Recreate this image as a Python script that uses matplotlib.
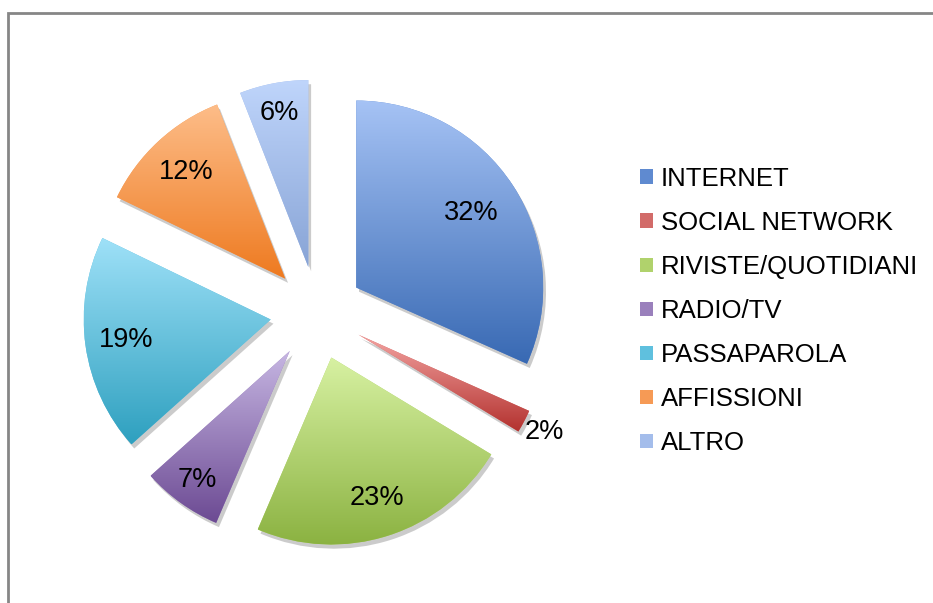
import numpy as np
import matplotlib
matplotlib.use("Agg")
import matplotlib.pyplot as plt
import matplotlib.patheffects as pe
from matplotlib.colors import LinearSegmentedColormap
from matplotlib.patches import Rectangle

plt.rcParams['font.family'] = ['Liberation Sans', 'DejaVu Sans']

categorie = ['INTERNET', 'SOCIAL NETWORK', 'RIVISTE/QUOTIDIANI', 'RADIO/TV',
             'PASSAPAROLA', 'AFFISSIONI', 'ALTRO']
percentuali = [32, 2, 23, 7, 19, 12, 6]
etichette = ['32%', '2%', '23%', '7%', '19%', '12%', '6%']

# sfumature (chiaro in alto, scuro in basso)
colori_chiari = ['#a6c3f5', '#f3a3a1', '#d7f1a2', '#c6b6e2', '#9fe1f8', '#fdbd89', '#bfd5fb']
colori_scuri = ['#3869b3', '#b3312e', '#8bb241', '#6c4a93', '#2ea0bf', '#ee7a20', '#88a4d6']
colori_medi = ['#5f8ad0', '#d26b69', '#b0d26c', '#9a80bc', '#5fc0de', '#f69a55', '#a4bdeb']
dist_etichette = [0.73, 1.12, 0.79, 0.85, 0.78, 0.78, 0.84]

W, H = 933, 603
fig = plt.figure(figsize=(W / 100, H / 100), dpi=100)
ax = fig.add_axes([36.5 / W, 9.5 / H, 561 / W, 561 / H])

explode = [0.25] * len(percentuali)
wedges, _ = ax.pie(percentuali, explode=explode, startangle=90, counterclock=False,
                   colors=colori_medi, radius=1.0)

grad = np.linspace(0, 1, 256).reshape(-1, 1)
for i, w in enumerate(wedges):
    w.set_path_effects([pe.SimplePatchShadow(offset=(2, -3), shadow_rgbFace='#555555', alpha=0.3),
                        pe.Normal()])
    w.set_linewidth(0)
    bb = w.get_path().get_extents()
    cmap = LinearSegmentedColormap.from_list('g%d' % i, [colori_scuri[i], colori_chiari[i]])
    im = ax.imshow(grad, cmap=cmap, extent=(bb.x0, bb.x1, bb.y0, bb.y1), origin='lower',
                   aspect='auto', zorder=w.get_zorder() + 0.5, interpolation='bilinear')
    im.set_clip_path(w)

    # posizione etichetta
    ang = np.deg2rad((w.theta1 + w.theta2) / 2)
    cx, cy = w.center
    r = dist_etichette[i]
    ax.text(cx + r * np.cos(ang), cy + r * np.sin(ang), etichette[i],
            ha='center', va='center', fontsize=19.5, color='black', zorder=10)

ax.set_xlim(-1.5, 1.5)
ax.set_ylim(-1.5, 1.5)
ax.set_aspect('auto')
ax.axis('off')

leg = fig.legend(wedges, categorie, loc='center left', bbox_to_anchor=(640 / W, 292 / H),
                 frameon=False, fontsize=18.5, handlelength=0.5, handleheight=0.5,
                 handletextpad=0.32, labelspacing=0.78, borderpad=0, borderaxespad=0)
for h in leg.legend_handles:
    h.set_path_effects([])

fig.patches.append(Rectangle((8 / W, -0.1), 1.2, (H - 13) / H + 0.1, transform=fig.transFigure,
                             fill=False, edgecolor='#868686', linewidth=2, zorder=0))

fig.savefig('out.png', dpi=100)
